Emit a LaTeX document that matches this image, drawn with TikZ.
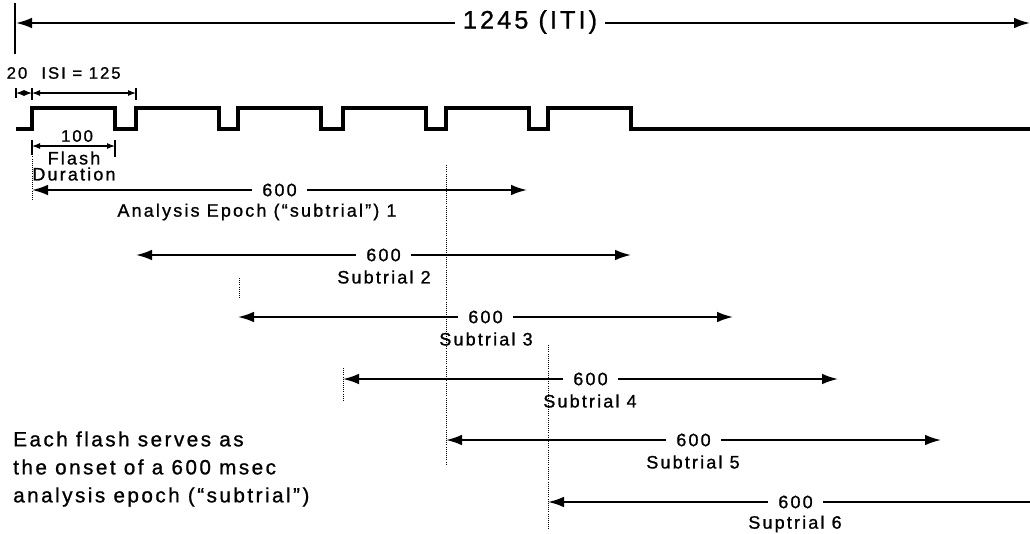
\documentclass[tikz,border=0pt]{standalone}
\usepackage{fontspec}
\setmainfont{Liberation Sans}[LetterSpace=12, FakeBold=1]
\usetikzlibrary{calc, arrows.meta}

\tikzset{
  wave/.style={line width=3pt, line join=miter},
  span/.style={line width=1.4pt, {Latex[length=12pt,width=8pt]}-{Latex[length=12pt,width=8pt]}},
  dim/.style={line width=0.8pt, {Latex[length=6pt,width=4.5pt]}-{Latex[length=6pt,width=4.5pt]}},
  tick/.style={line width=0.8pt},
  guide/.style={densely dotted, line width=0.6pt},
  num/.style={fill=white, inner xsep=8pt, inner ysep=1pt, font=\fontsize{13.5}{15}\selectfont},
  lbl/.style={inner sep=0pt, font=\fontsize{13.5}{15}\selectfont},
}

\begin{document}
\begin{tikzpicture}[x=0.75pt, y=-0.75pt]
  \useasboundingbox (0,0) rectangle (1030,533);

  % inter-trial interval
  \coordinate (T0) at (16,23);
  \coordinate (T1) at (1030,23);
  \draw[tick, line width=1.2pt] (15,3) -- (15,54);
  \draw[span] (T0) -- (T1);
  \node[num, inner xsep=6pt, font=\fontsize{19}{21}\selectfont] (iti) at (530,22) {1245 (ITI)};

  % flash train
  \draw[wave] (16,129) foreach \x in {32,136,238,343,446,548} { -- (\x,129) -- (\x,108) -- ++(83,0) -- ++(0,21) } -- (1030,129);

  % 20 and ISI
  \coordinate (A) at (16,93);
  \coordinate (B) at (32,93);
  \coordinate (C) at (136,93);
  \draw[tick] (16,88) -- (16,98) (32,88) -- (32,100) (136,88) -- (136,100);
  \draw[dim] (A) -- (B);
  \draw[dim] (B) -- (C);
  \node[lbl, font=\fontsize{12.5}{14}\selectfont] (twenty) at (17,73) {20};
  \node[lbl, font=\fontsize{12.5}{14}\selectfont] (isi) at (81,73) {ISI = 125};

  % flash duration
  \coordinate (F0) at (32,146);
  \coordinate (F1) at (115,146);
  \draw[tick] (32,140) -- (32,155) (115,140) -- (115,157);
  \draw[dim] (F0) -- (F1);
  \node[lbl, font=\fontsize{12.5}{14}\selectfont] (dur) at (77,136) {100};
  \node[lbl] (flash) at (74,158) {Flash};
  \node[lbl] (duration) at (74,174) {Duration};

  % onset guides
  \draw[guide] (32,150) -- (32,200);
  \draw[guide] (239,278) -- (239,298);
  \draw[guide] (343,368) -- (343,402);
  \draw[guide] (446,165) -- (446,465);
  \draw[guide] (548,345) -- (548,530);

  % subtrials
  \foreach \i/\xs/\ys/\xl/\txt in {1/32/190/257/{Analysis Epoch (``subtrial'') 1},
      2/136/255/384/{Subtrial 2}, 3/238/317/486/{Subtrial 3},
      4/343/379/590/{Subtrial 4}, 5/446/440/693/{Subtrial 5},
      6/548/502/795/{Suptrial 6}} {
    \coordinate (s\i) at (\xs,\ys);
    \coordinate (e\i) at ({min(\xs+495,1030)},\ys);
    \ifnum\i<6
      \draw[span] (s\i) -- (e\i);
    \else
      \draw[line width=1.4pt, {Latex[length=12pt,width=8pt]}-] (s\i) -- (e\i);
    \fi
    \node[num] (n\i) at ({\xs+247.5},\ys) {600};
    \node[lbl] (t\i) at (\xl,\ys+22) {\txt};
  }

  % note
  \node[anchor=west, align=left, inner sep=0pt, font=\fontsize{15.5}{21}\selectfont] (note) at (13,469)
    {Each flash serves as\\the onset of a 600 msec\\analysis epoch (``subtrial'')};
\end{tikzpicture}
\end{document}
